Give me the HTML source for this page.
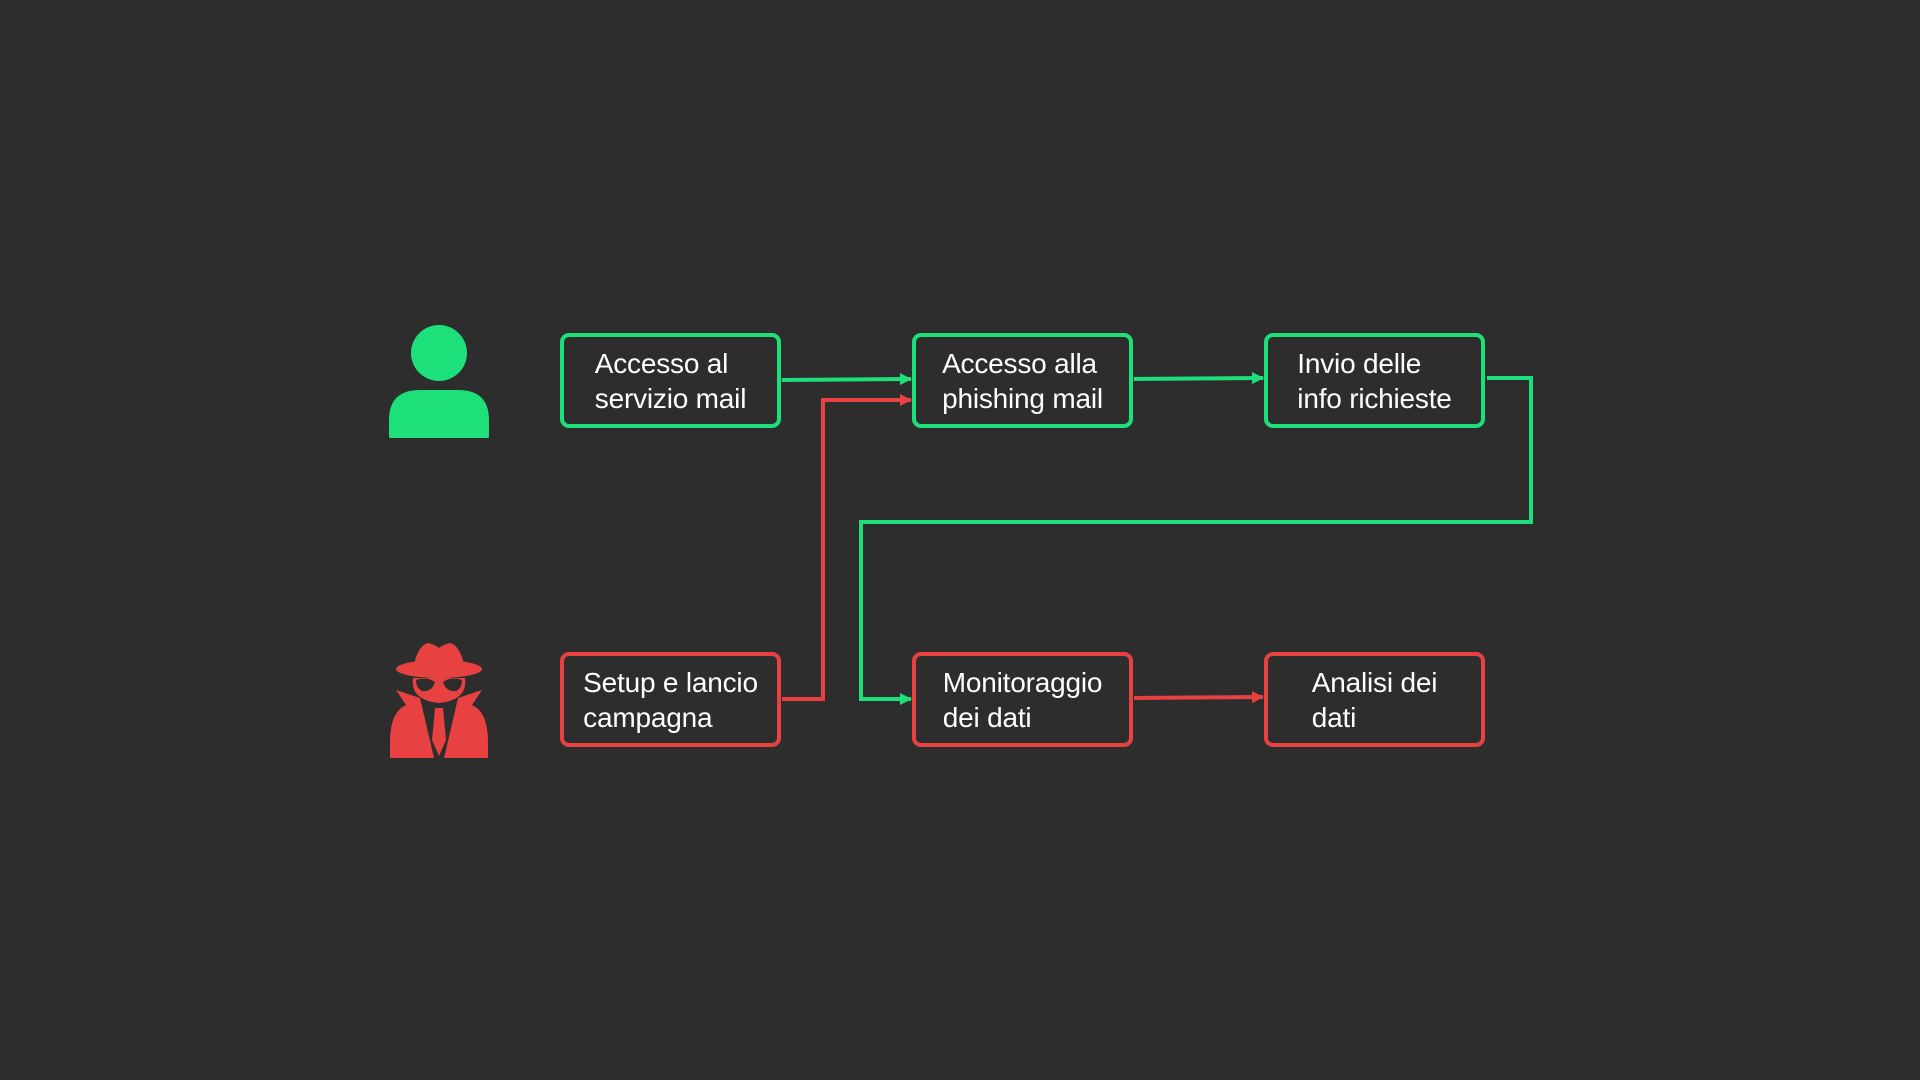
<!DOCTYPE html>
<html><head><meta charset="utf-8"><style>
html,body{margin:0;padding:0;background:#2d2d2d;}
body{width:1920px;height:1080px;position:relative;overflow:hidden;font-family:"Liberation Sans",sans-serif;}
.b{position:absolute;width:213px;height:87px;border:4px solid;border-radius:9px;display:flex;align-items:center;justify-content:center;color:#fff;font-size:28px;line-height:35px;box-sizing:content-box;letter-spacing:-0.2px}
.g{border-color:#1de07a}.r{border-color:#e84141}
svg{position:absolute;left:0;top:0}
</style></head><body>
<svg width="1920" height="1080">
<defs>
<marker id="ag" markerWidth="12" markerHeight="12" refX="11" refY="6" orient="auto" markerUnits="userSpaceOnUse"><path d="M0,0 L12,6 L0,12Z" fill="#1de07a"/></marker>
<marker id="ar" markerWidth="12" markerHeight="12" refX="11" refY="6" orient="auto" markerUnits="userSpaceOnUse"><path d="M0,0 L12,6 L0,12Z" fill="#e84141"/></marker>
</defs>
<g fill="none" stroke-width="4">
<path d="M782,380 L911,379" stroke="#1de07a" marker-end="url(#ag)"/>
<path d="M1134,379 L1263,378" stroke="#1de07a" marker-end="url(#ag)"/>
<path d="M1487,378 L1531,378 L1531,522 L861,522 L861,699 L911,699" stroke="#1de07a" marker-end="url(#ag)"/>
<path d="M782,699 L823,699 L823,400 L911,400" stroke="#e84141" marker-end="url(#ar)"/>
<path d="M1134,698 L1263,697" stroke="#e84141" marker-end="url(#ar)"/>
</g>
<g fill="#1de07a">
<circle cx="439" cy="353" r="28"/>
<path d="M389,437 L389,420 Q389,390 420,390 L458,390 Q489,390 489,420 L489,437 Q489,438 488,438 L390,438Z"/>
</g>
<g fill="#e84141">
<path d="M413,668 Q418,645 428,643 Q436,645 439,648 Q442,645 450,643 Q460,645 465,668 Z"/>
<ellipse cx="439" cy="669" rx="43" ry="9"/>
<path d="M413,678 L465,678 Q468,700 439,703 Q410,700 413,678Z"/>
<path d="M390,742 Q390,712 406,705 L396,690 L420,698 L434,758 L390,758Z"/>
<path d="M488,742 Q488,712 472,705 L482,690 L458,698 L444,758 L488,758Z"/>
<path d="M435,708 L443,708 L446,740 L439,756 L432,740Z"/>
</g>
<g fill="#2d2d2d">
<path d="M416,680 Q426,676 435,682 Q432,692 422,691 Q416,688 416,680Z"/>
<path d="M462,680 Q452,676 443,682 Q446,692 456,691 Q462,688 462,680Z"/>
</g>
</svg>
<div class="b g" style="left:560px;top:333px"><div>Accesso al<br>servizio mail</div></div>
<div class="b g" style="left:912px;top:333px"><div>Accesso alla<br>phishing mail</div></div>
<div class="b g" style="left:1264px;top:333px"><div>Invio delle<br>info richieste</div></div>
<div class="b r" style="left:560px;top:652px"><div>Setup e lancio<br>campagna</div></div>
<div class="b r" style="left:912px;top:652px"><div>Monitoraggio<br>dei dati</div></div>
<div class="b r" style="left:1264px;top:652px"><div>Analisi dei<br>dati</div></div>
</body></html>
